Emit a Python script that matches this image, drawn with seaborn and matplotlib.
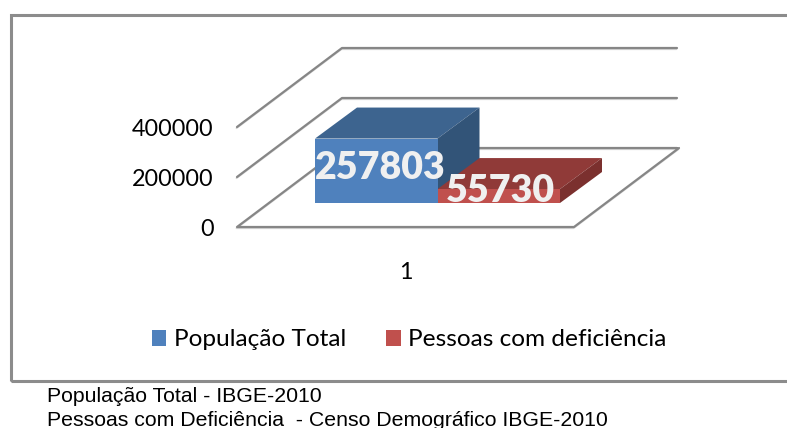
import pandas as pd
import seaborn as sns
import matplotlib.pyplot as plt
from matplotlib.patches import Polygon, Rectangle

W, H = 787, 428

# Daten
categories = ["1"]
series_names = ["População Total", "Pessoas com deficiência"]
series_values = [257803, 55730]
y_ticks = [0, 200000, 400000]
colors = ["#4F81BD", "#C0504D"]
top_colors = ["#3D648F", "#903A38"]
side_colors = ["#325478", "#7B302E"]
source_lines = ["População Total - IBGE-2010",
                "Pessoas com Deficiência  - Censo Demográfico IBGE-2010"]

df = pd.DataFrame({"cat": categories * 2, "serie": series_names, "valor": series_values})

sns.set_theme(style="white")
plt.rcParams["font.family"] = ["Lato", "DejaVu Sans"]

fig = plt.figure(figsize=(W / 100, H / 100), dpi=100)


def px_axes(left, base, width, height):
    # Achse in Pixeln von oben links angeben
    return fig.add_axes([left / W, 1 - base / H, width / W, height / H])


# Rahmen
fig.add_artist(Rectangle((10.5 / W, 1 - 381 / H), (W + 20) / W, 366 / H, transform=fig.transFigure,
                         fill=False, ec="#8C8C8C", lw=2.2))

# Boden und Rückwand
ax = px_axes(237, 227, 337, 200)
ax.set_ylim(0, 800000)
ax.set_xlim(-0.5, 0.5)
ax.patch.set_visible(False)
sns.despine(ax=ax, left=True, bottom=True, top=True, right=True)
ax.set_xticks([0], categories)
ax.set_yticks(y_ticks, [str(v) for v in y_ticks])
ax.tick_params(axis="x", length=0, pad=25, labelsize=16.8, labelcolor="black")
ax.tick_params(axis="y", length=0, pad=17, labelsize=16.8, labelcolor="black")

wall_dx, wall_dy = 105, 79
fig.canvas.draw()
for v in y_ticks:
    x0, y0 = ax.transData.transform((-0.5, v))
    xs = [x0, x0 + wall_dx, x0 + wall_dx + 335]
    ys = [y0, y0 + wall_dy, y0 + wall_dy]
    if v == 0:
        x1 = ax.transData.transform((0.5, 0))[0]
        xs = [x1 + wall_dx, x1, x0, x0 + wall_dx, x0 + wall_dx + 335]
        ys = [y0 + wall_dy, y0, y0, y0 + wall_dy, y0 + wall_dy]
    ax.plot([x - 0.5 for x in xs], [y - 1.2 for y in ys], transform=None, color="#D4D4D4", lw=1.3, clip_on=False)
    ax.plot(xs, ys, transform=None, color="#868686", lw=1.6, clip_on=False)

# Balken (Vorderseite), etwas nach hinten versetzt
ax_bar = px_axes(269, 203, 337, 200)
ax_bar.patch.set_visible(False)
sns.barplot(data=df, x="cat", y="valor", hue="serie", hue_order=series_names, palette=colors,
            width=0.727, saturation=1, legend=False, ax=ax_bar)
ax_bar.set_ylim(0, 800000)
ax_bar.set_xlim(-0.5, 0.5)
ax_bar.axis("off")
fig.canvas.draw()

bar_dx, bar_dy = 42, 31
bars = [c[0] for c in ax_bar.containers]
for bar, c_top, c_side in zip(bars, top_colors, side_colors):
    bar.set_linewidth(0)
    x0, y0 = ax_bar.transData.transform((bar.get_x(), 0))
    x1, y1 = ax_bar.transData.transform((bar.get_x() + bar.get_width(), bar.get_height()))
    fig.add_artist(Polygon([(x0, y1), (x1, y1), (x1 + bar_dx, y1 + bar_dy), (x0 + bar_dx, y1 + bar_dy)],
                           transform=None, fc=c_top, lw=0, zorder=2))
    fig.add_artist(Polygon([(x1, y0), (x1 + bar_dx, y0 + bar_dy), (x1 + bar_dx, y1 + bar_dy), (x1, y1)],
                           transform=None, fc=c_side, lw=0, zorder=2))

# Vorderseiten und Werte über den Flächen
ax_bar.set_zorder(5)
label_shift = [(4, 3), (2, 5)]
for bar, val, shift in zip(bars, series_values, label_shift):
    ax_bar.annotate(str(val), (bar.get_x() + bar.get_width() / 2, bar.get_height() / 2),
                    xytext=(shift[0] * 0.72, shift[1] * 0.72), textcoords="offset points",
                    ha="center", va="center", color="#F0F0F0", fontsize=27, fontweight="heavy",
                    annotation_clip=False, zorder=6)

# Legende
fig.legend(handles=[Rectangle((0, 0), 1, 1, fc=c, lw=0) for c in colors], labels=series_names,
           loc="center", bbox_to_anchor=(409 / W, 1 - 340 / H), ncol=2, frameon=False, labelcolor="black",
           fontsize=17.6, handlelength=0.6, handleheight=0.6, handletextpad=0.3, columnspacing=1.65)

# Quellenangabe
for text, y in zip(source_lines, [396, 420]):
    fig.text(47 / W, 1 - y / H, text, family="Liberation Sans", fontsize=15.3, color="black", va="center")

fig.savefig("out.png", dpi=100)
